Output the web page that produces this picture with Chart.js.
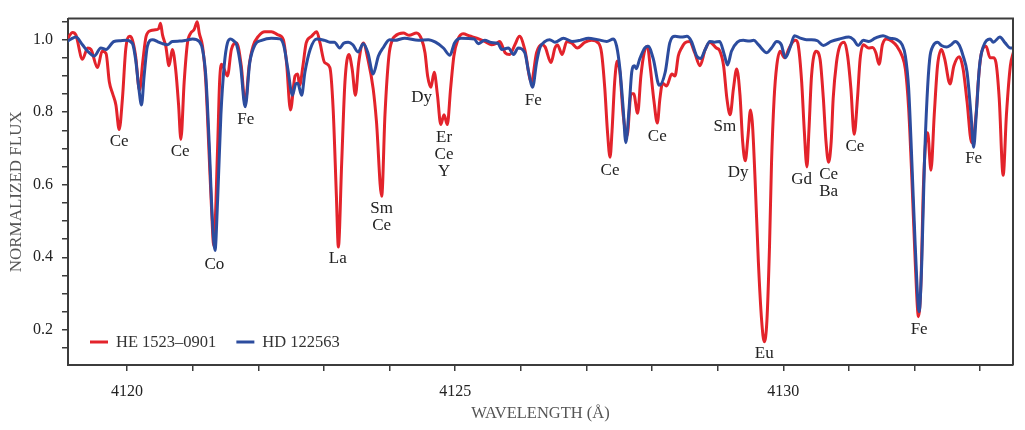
<!DOCTYPE html>
<html>
<head>
<meta charset="utf-8">
<title>HE 1523-0901 vs HD 122563</title>
<script src="https://cdn.jsdelivr.net/npm/chart.js@4.4.1/dist/chart.umd.min.js"></script>
<style>
  html, body { margin: 0; padding: 0; background: #fff; }
  #wrap { width: 1025px; height: 430px; position: relative; }
</style>
</head>
<body>
<div id="wrap"><canvas id="spectrum"></canvas></div>
<script>
// HE 1523-0901 (r-process enhanced star)
const redWave = [
  4119.07, 4119.17, 4119.22, 4119.32, 4119.40, 4119.45, 4119.55, 4119.62, 4119.68, 4119.73,
  4119.78, 4119.83, 4119.88, 4119.93, 4119.98, 4120.04, 4120.08, 4120.13, 4120.19, 4120.24,
  4120.29, 4120.36, 4120.43, 4120.48, 4120.51, 4120.54, 4120.59, 4120.64, 4120.69, 4120.74,
  4120.785, 4120.82, 4120.87, 4120.92, 4120.97, 4121.02, 4121.07, 4121.10, 4121.15, 4121.20,
  4121.25, 4121.29, 4121.32, 4121.38, 4121.41, 4121.44, 4121.53, 4121.59, 4121.67, 4121.74,
  4121.80, 4121.86, 4121.92, 4122.00, 4122.10, 4122.20, 4122.30, 4122.38, 4122.43, 4122.49,
  4122.56, 4122.60, 4122.63, 4122.68, 4122.73, 4122.81, 4122.89, 4122.94, 4123.01, 4123.09,
  4123.14, 4123.19, 4123.22, 4123.27, 4123.32, 4123.38, 4123.43, 4123.48, 4123.53, 4123.60,
  4123.67, 4123.75, 4123.80, 4123.88, 4123.93, 4123.99, 4124.04, 4124.08, 4124.21, 4124.30,
  4124.41, 4124.49, 4124.54, 4124.58, 4124.63, 4124.68, 4124.73, 4124.78, 4124.83, 4124.88,
  4124.93, 4124.98, 4125.04, 4125.12, 4125.22, 4125.33, 4125.45, 4125.55, 4125.63, 4125.68,
  4125.76, 4125.83, 4125.91, 4125.98, 4126.06, 4126.16, 4126.24, 4126.32, 4126.37, 4126.46,
  4126.52, 4126.56, 4126.63, 4126.70, 4126.78, 4126.86, 4126.98, 4127.08, 4127.18, 4127.23,
  4127.28, 4127.32, 4127.36, 4127.39, 4127.43, 4127.47, 4127.51, 4127.56, 4127.62, 4127.68,
  4127.72, 4127.78, 4127.83, 4127.88, 4127.93, 4127.97, 4128.03, 4128.08, 4128.12, 4128.16,
  4128.22, 4128.30, 4128.35, 4128.40, 4128.45, 4128.50, 4128.57, 4128.65, 4128.73, 4128.81,
  4128.88, 4128.98, 4129.03, 4129.09, 4129.14, 4129.19, 4129.24, 4129.29, 4129.34, 4129.38,
  4129.42, 4129.46, 4129.50, 4129.53, 4129.57, 4129.62, 4129.67, 4129.71, 4129.75, 4129.79,
  4129.82, 4129.86, 4129.90, 4129.95, 4130.02, 4130.08, 4130.14, 4130.19, 4130.23, 4130.28,
  4130.32, 4130.36, 4130.39, 4130.43, 4130.50, 4130.56, 4130.61, 4130.65, 4130.69, 4130.73,
  4130.76, 4130.81, 4130.86, 4130.93, 4130.98, 4131.03, 4131.08, 4131.13, 4131.17, 4131.22,
  4131.30, 4131.36, 4131.41, 4131.46, 4131.51, 4131.57, 4131.66, 4131.73, 4131.81, 4131.86,
  4131.91, 4131.96, 4132.01, 4132.06, 4132.10, 4132.13, 4132.17, 4132.20, 4132.25, 4132.30,
  4132.35, 4132.41, 4132.46, 4132.54, 4132.60, 4132.68, 4132.74, 4132.80, 4132.87, 4132.94,
  4132.97, 4133.02, 4133.09, 4133.15, 4133.20, 4133.24, 4133.29, 4133.35, 4133.40, 4133.46,
  4133.51
];
const redFlux = [
  0.995, 1.020, 1.013, 0.946, 0.977, 0.973, 0.923, 0.968, 0.962, 0.883,
  0.851, 0.820, 0.752, 0.839, 0.974, 1.009, 1.000, 0.955, 0.860, 0.940,
  1.009, 1.025, 1.027, 1.030, 1.045, 1.013, 0.982, 0.928, 0.973, 0.919,
  0.820, 0.725, 0.883, 0.990, 1.018, 1.027, 1.049, 1.018, 0.982, 0.883,
  0.685, 0.523, 0.432, 0.703, 0.883, 0.932, 0.900, 0.973, 0.991, 0.928,
  0.824, 0.928, 0.982, 1.009, 1.022, 1.022, 1.013, 1.000, 0.937, 0.806,
  0.900, 0.905, 0.874, 0.928, 0.991, 1.009, 1.022, 0.991, 0.937, 0.923,
  0.810, 0.568, 0.428, 0.658, 0.883, 0.959, 0.919, 0.847, 0.937, 0.991,
  0.946, 0.865, 0.775, 0.568, 0.793, 0.955, 0.998, 1.009, 1.018, 1.012,
  1.018, 1.000, 0.964, 0.900, 0.869, 0.910, 0.847, 0.766, 0.793, 0.766,
  0.865, 0.955, 1.000, 1.016, 1.010, 1.004, 0.995, 0.986, 0.990, 0.995,
  0.964, 0.959, 0.986, 1.009, 0.973, 0.883, 0.964, 0.986, 0.980, 0.937,
  0.977, 0.985, 0.959, 0.995, 0.990, 0.977, 0.993, 0.998, 0.991, 0.964,
  0.865, 0.748, 0.676, 0.748, 0.883, 0.941, 0.910, 0.793, 0.735, 0.851,
  0.851, 0.797, 0.900, 0.964, 0.982, 0.928, 0.829, 0.770, 0.838, 0.880,
  0.872, 0.905, 0.900, 0.955, 0.977, 0.991, 0.995, 0.964, 0.928, 0.973,
  0.993, 0.977, 0.970, 0.928, 0.838, 0.793, 0.865, 0.919, 0.847, 0.720,
  0.666, 0.730, 0.806, 0.766, 0.613, 0.387, 0.225, 0.167, 0.225, 0.432,
  0.658, 0.838, 0.928, 0.968, 0.950, 0.973, 0.993, 0.998, 0.982, 0.883,
  0.748, 0.649, 0.748, 0.900, 0.968, 0.946, 0.838, 0.720, 0.662, 0.720,
  0.838, 0.937, 0.982, 0.993, 0.955, 0.865, 0.739, 0.838, 0.946, 0.986,
  0.977, 0.978, 0.964, 0.932, 0.986, 1.002, 0.995, 0.982, 0.955, 0.919,
  0.810, 0.612, 0.387, 0.236, 0.342, 0.568, 0.720, 0.743, 0.640, 0.793,
  0.928, 0.973, 0.946, 0.878, 0.928, 0.953, 0.919, 0.829, 0.716, 0.800,
  0.883, 0.964, 0.982, 0.950, 0.950, 0.937, 0.838, 0.626, 0.793, 0.928,
  0.968
];

// HD 122563 (comparison star)
const blueWave = [
  4119.07, 4119.15, 4119.22, 4119.32, 4119.40, 4119.50, 4119.60, 4119.68, 4119.80, 4119.90,
  4119.98, 4120.08, 4120.13, 4120.18, 4120.22, 4120.26, 4120.31, 4120.39, 4120.47, 4120.54,
  4120.62, 4120.69, 4120.80, 4120.89, 4121.00, 4121.10, 4121.15, 4121.20, 4121.25, 4121.30,
  4121.34, 4121.38, 4121.43, 4121.48, 4121.53, 4121.58, 4121.63, 4121.67, 4121.73, 4121.80,
  4121.87, 4121.95, 4122.05, 4122.20, 4122.33, 4122.39, 4122.45, 4122.52, 4122.57, 4122.60,
  4122.66, 4122.71, 4122.79, 4122.89, 4123.01, 4123.09, 4123.16, 4123.24, 4123.30, 4123.37,
  4123.44, 4123.52, 4123.60, 4123.67, 4123.75, 4123.83, 4123.90, 4124.00, 4124.08, 4124.23,
  4124.44, 4124.59, 4124.70, 4124.82, 4124.92, 4124.99, 4125.09, 4125.29, 4125.35, 4125.45,
  4125.55, 4125.65, 4125.71, 4125.81, 4125.89, 4125.96, 4126.06, 4126.12, 4126.18, 4126.24,
  4126.29, 4126.37, 4126.44, 4126.52, 4126.65, 4126.78, 4126.90, 4127.03, 4127.17, 4127.31,
  4127.41, 4127.46, 4127.51, 4127.56, 4127.60, 4127.65, 4127.69, 4127.73, 4127.76, 4127.81,
  4127.89, 4127.94, 4128.02, 4128.11, 4128.20, 4128.27, 4128.35, 4128.45, 4128.53, 4128.60,
  4128.68, 4128.74, 4128.81, 4128.88, 4128.95, 4129.03, 4129.10, 4129.15, 4129.21, 4129.30,
  4129.39, 4129.48, 4129.55, 4129.62, 4129.75, 4129.82, 4129.90, 4129.97, 4130.03, 4130.11,
  4130.17, 4130.26, 4130.35, 4130.43, 4130.52, 4130.61, 4130.73, 4130.86, 4131.00, 4131.07,
  4131.14, 4131.22, 4131.30, 4131.40, 4131.52, 4131.62, 4131.73, 4131.81, 4131.86, 4131.91,
  4131.96, 4132.01, 4132.07, 4132.11, 4132.15, 4132.19, 4132.23, 4132.28, 4132.35, 4132.41,
  4132.49, 4132.55, 4132.62, 4132.68, 4132.74, 4132.80, 4132.86, 4132.90, 4132.94, 4132.99,
  4133.05, 4133.15, 4133.20, 4133.30, 4133.38, 4133.46, 4133.52
];
const blueFlux = [
  0.993, 1.002, 1.007, 0.986, 0.968, 0.955, 0.977, 0.973, 0.995, 0.997,
  0.998, 0.990, 0.946, 0.865, 0.820, 0.900, 0.982, 1.000, 0.994, 0.989,
  0.986, 0.995, 0.996, 0.998, 1.002, 0.995, 0.973, 0.900, 0.720, 0.504,
  0.419, 0.558, 0.793, 0.928, 0.991, 1.002, 0.996, 0.986, 0.928, 0.815,
  0.937, 0.986, 0.998, 1.004, 1.002, 0.982, 0.919, 0.847, 0.878, 0.880,
  0.847, 0.910, 0.973, 1.002, 0.998, 0.993, 0.993, 0.977, 0.990, 0.993,
  0.986, 0.966, 0.989, 0.964, 0.905, 0.955, 0.977, 1.000, 0.998, 1.004,
  0.998, 1.000, 0.993, 0.977, 0.957, 0.991, 1.004, 1.002, 0.989, 0.998,
  0.992, 0.990, 0.973, 0.977, 0.959, 0.977, 0.964, 0.910, 0.869, 0.937,
  0.977, 0.995, 1.000, 0.993, 1.004, 0.995, 0.998, 1.004, 1.000, 0.995,
  1.002, 0.982, 0.919, 0.810, 0.716, 0.810, 0.910, 0.928, 0.920, 0.946,
  0.977, 0.982, 0.946, 0.874, 0.910, 0.991, 1.009, 1.007, 1.009, 0.995,
  0.955, 0.948, 0.973, 0.995, 0.993, 0.995, 0.959, 0.930, 0.968, 0.993,
  0.998, 0.996, 0.998, 0.986, 0.964, 0.977, 0.995, 0.986, 0.950, 0.982,
  1.011, 1.004, 1.000, 1.000, 0.997, 0.984, 0.995, 1.002, 1.007, 1.000,
  0.984, 0.998, 0.995, 1.004, 1.011, 1.004, 1.000, 0.986, 0.955, 0.865,
  0.658, 0.432, 0.250, 0.387, 0.658, 0.838, 0.946, 0.982, 0.993, 0.984,
  0.980, 0.985, 0.995, 0.985, 0.955, 0.910, 0.793, 0.703, 0.793, 0.928,
  0.982, 1.002, 0.993, 1.007, 0.991, 0.977, 0.977
];

// axis ticks
const xTicks = [4120, 4121, 4122, 4123, 4124, 4125, 4126, 4127, 4128, 4129, 4130, 4131, 4132, 4133];
const xTickLabels = [4120, 4125, 4130];
const yTicks = [0.15, 0.2, 0.25, 0.3, 0.35, 0.4, 0.45, 0.5, 0.55, 0.6, 0.65, 0.7, 0.75, 0.8, 0.85, 0.9, 0.95, 1.0, 1.05];
const yTickLabels = [0.2, 0.4, 0.6, 0.8, 1.0];

// line identifications (text, wavelength, flux of the first text line)
const lineNames = [['Ce'], ['Ce'], ['Co'], ['Fe'], ['La'], ['Sm', 'Ce'], ['Dy'], ['Er', 'Ce', 'Y'], ['Fe'], ['Ce'],
  ['Ce'], ['Sm'], ['Dy'], ['Eu'], ['Gd'], ['Ce', 'Ba'], ['Ce'], ['Fe'], ['Fe']];
const lineWave = [4119.88, 4120.81, 4121.33, 4121.81, 4123.21, 4123.88, 4124.49, 4124.83, 4126.19, 4127.36,
  4128.08, 4129.11, 4129.31, 4129.71, 4130.28, 4130.69, 4131.09, 4132.07, 4132.90];
const lineFlux = [0.718, 0.691, 0.381, 0.781, 0.396, 0.534, 0.840, 0.731, 0.833, 0.640,
  0.732, 0.761, 0.635, 0.135, 0.615, 0.629, 0.704, 0.200, 0.671];

const RED = '#e3232b';
const BLUE = '#2c4c9e';
const AXIS = '#3c3c3c';
const FONT = "'Liberation Serif', 'Times New Roman', serif";

const toPoints = (xs, ys) => xs.map((x, i) => ({ x: x, y: ys[i] }));

// box around the plot, legend inside, line labels
const decorations = {
  id: 'decorations',
  afterDatasetsDraw(chart) {
    const { ctx, chartArea: a, scales } = chart;
    ctx.save();

    // labels for the absorption lines
    ctx.fillStyle = '#222';
    ctx.font = '17px ' + FONT;
    ctx.textAlign = 'center';
    ctx.textBaseline = 'middle';
    lineNames.forEach((rows, i) => {
      const px = scales.x.getPixelForValue(lineWave[i]);
      const py = scales.y.getPixelForValue(lineFlux[i]);
      rows.forEach((t, j) => ctx.fillText(t, px, py + j * 17));
    });

    // legend
    let lx = a.left + 22;
    const ly = a.bottom - 23;
    ctx.font = '16.5px ' + FONT;
    ctx.textAlign = 'left';
    ctx.fillStyle = '#333';
    chart.data.datasets.forEach(ds => {
      ctx.strokeStyle = ds.borderColor;
      ctx.lineWidth = 3;
      ctx.beginPath();
      ctx.moveTo(lx, ly);
      ctx.lineTo(lx + 18, ly);
      ctx.stroke();
      ctx.fillText(ds.label, lx + 26, ly + 1);
      lx += 26 + ctx.measureText(ds.label).width + 20;
    });

    // top and right frame
    ctx.strokeStyle = AXIS;
    ctx.lineWidth = 2;
    ctx.beginPath();
    ctx.moveTo(a.left, a.top);
    ctx.lineTo(a.right, a.top);
    ctx.lineTo(a.right, a.bottom);
    ctx.stroke();
    ctx.restore();
  }
};

new Chart(document.getElementById('spectrum'), {
  type: 'line',
  data: {
    datasets: [{
      label: 'HE 1523\u20130901',
      data: toPoints(redWave, redFlux),
      borderColor: RED,
      borderWidth: 3,
      pointRadius: 0,
      cubicInterpolationMode: 'monotone',
      order: 1
    }, {
      label: 'HD 122563',
      data: toPoints(blueWave, blueFlux),
      borderColor: BLUE,
      borderWidth: 3,
      pointRadius: 0,
      cubicInterpolationMode: 'monotone',
      order: 0
    }]
  },
  plugins: [decorations],
  options: {
    responsive: true,
    maintainAspectRatio: false,
    animation: false,
    layout: { padding: { left: 0, right: 12, top: 12, bottom: 0 } },
    plugins: {
      legend: { display: false },
      tooltip: { enabled: false }
    },
    scales: {
      x: {
        type: 'linear',
        min: 4119.1,
        max: 4133.5,
        afterBuildTicks: s => { s.ticks = xTicks.map(v => ({ value: v })); },
        afterFit: s => { s.height = 65; },
        grid: { drawOnChartArea: false, drawTicks: true, tickLength: 6, color: AXIS, lineWidth: 1.5 },
        border: { display: true, color: AXIS, width: 2 },
        ticks: {
          autoSkip: false,
          maxRotation: 0,
          padding: 11,
          color: '#222',
          font: { family: FONT, size: 16 },
          callback: v => xTickLabels.includes(v) ? String(v) : ''
        },
        title: {
          display: true,
          text: 'WAVELENGTH (\u00c5)',
          color: '#555',
          font: { family: FONT, size: 16.5 },
          padding: { top: 0, bottom: 6 }
        }
      },
      y: {
        min: 0.103,
        max: 1.058,
        afterBuildTicks: s => { s.ticks = yTicks.map(v => ({ value: v })); },
        afterFit: s => { s.width = 68; },
        grid: { drawOnChartArea: false, drawTicks: true, tickLength: 6, color: AXIS, lineWidth: 1.5 },
        border: { display: true, color: AXIS, width: 2 },
        ticks: {
          autoSkip: false,
          padding: 9,
          color: '#222',
          font: { family: FONT, size: 16 },
          callback: v => yTickLabels.some(t => Math.abs(t - v) < 1e-6) ? v.toFixed(1) : ''
        },
        title: {
          display: true,
          text: 'NORMALIZED FLUX',
          color: '#555',
          font: { family: FONT, size: 17 },
          padding: { top: 6, bottom: 0 }
        }
      }
    }
  }
});
</script>
</body>
</html>
